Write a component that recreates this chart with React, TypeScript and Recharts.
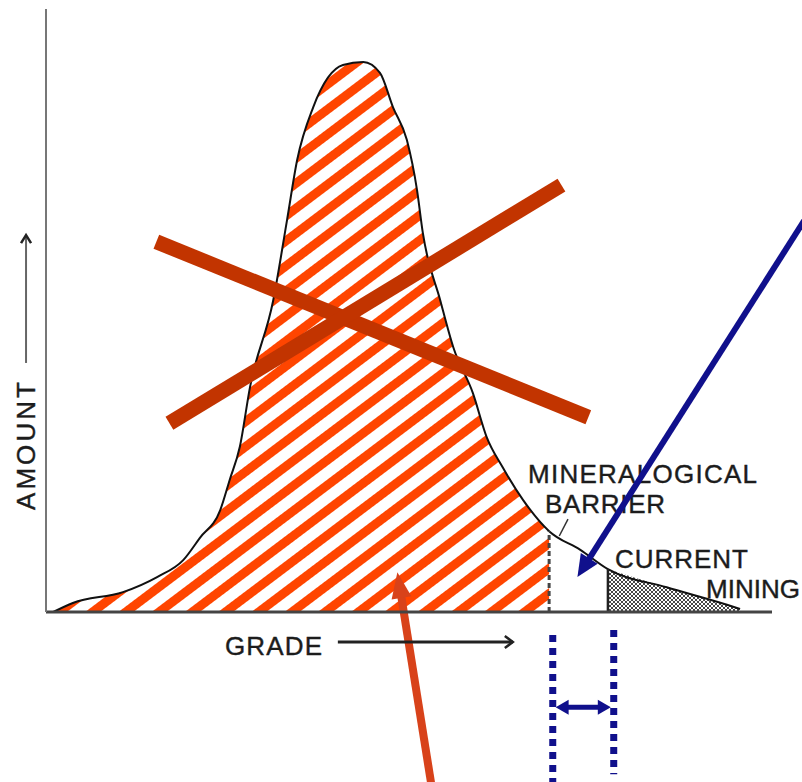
import { ComposedChart, Area, Line, XAxis, YAxis, ReferenceLine } from "recharts";

// grade / amount
const grade = [1, 3.7, 10.6, 15.3, 18.9, 21.2, 24.0, 25.3, 26.7, 28.1, 31.3, 33.2, 34.6, 36.8, 40.9, 43.7, 46.0, 47.8, 49.7, 51.1, 51.9, 54.3, 56.1, 58.8, 60.7, 62.9, 65.7, 69.3, 73.6, 77.4, 85.5, 93.8, 95.6];
const amount = [0, 1.5, 3.3, 5.8, 8.6, 12.3, 16.9, 21.9, 27.4, 37.3, 51.7, 65.0, 75.0, 83.7, 90.7, 91.2, 89.4, 83.7, 78.3, 70.0, 62.9, 51.7, 43.9, 36.3, 29.0, 24.0, 18.6, 13.4, 10.3, 7.1, 4.1, 1.2, 0.5];

const barrierGrade = 69.3;
const barrierAmount = 13.4;
const miningGrade = 77.4;
const miningAmount = 7.1;

const data = grade.map((g, i) => ({
  grade: g,
  amount: amount[i],
  waste: g <= barrierGrade ? amount[i] : null,
  mined: g >= miningGrade ? amount[i] : null,
}));

// annotation segments, in grade / amount units
const crossA = [{ x: 15.2, y: 61.4 }, { x: 74.7, y: 32.3 }];
const crossB = [{ x: 17.0, y: 31.3 }, { x: 71.0, y: 70.8 }];
const blueArrow = [{ x: 105.8, y: 67.5 }, { x: 73.2, y: 5.8 }];
const redArrow = [{ x: 53.1, y: -28.8 }, { x: 48.4, y: 6.6 }];
const leftDots = [{ x: 69.8, y: -3.8 }, { x: 69.8, y: -28.2 }];
const rightDots = [{ x: 78.2, y: -3.0 }, { x: 78.2, y: -26.9 }];
const gapArrow = [{ x: 70.2, y: -15.8 }, { x: 77.8, y: -15.8 }];
const gradeArrow = [{ x: 40.2, y: -4.98 }, { x: 64.3, y: -4.98 }];
const amountArrow = [{ x: -2.75, y: 41.3 }, { x: -2.75, y: 62.5 }];
const barrierTick = [{ x: 71.9, y: 15.4 }, { x: 70.7, y: 12.6 }];

const arrow =
  (color: string, w: number, hl: number, hw: number, both = false) =>
  (p: any) => {
    const { x1, y1, x2, y2 } = p;
    const dx = x2 - x1;
    const dy = y2 - y1;
    const len = Math.hypot(dx, dy) || 1;
    const ux = dx / len;
    const uy = dy / len;
    const nx = -uy;
    const ny = ux;
    const head = (tx: number, ty: number, s: number) => {
      const bx = tx - s * ux * hl;
      const by = ty - s * uy * hl;
      return `${tx},${ty} ${bx + (nx * hw) / 2},${by + (ny * hw) / 2} ${bx - (nx * hw) / 2},${by - (ny * hw) / 2}`;
    };
    const sx = both ? x1 + ux * hl * 0.7 : x1;
    const sy = both ? y1 + uy * hl * 0.7 : y1;
    return (
      <g>
        <line x1={sx} y1={sy} x2={x2 - ux * hl * 0.7} y2={y2 - uy * hl * 0.7} stroke={color} strokeWidth={w} />
        <polygon points={head(x2, y2, 1)} fill={color} />
        {both && <polygon points={head(x1, y1, -1)} fill={color} />}
      </g>
    );
  };

const openArrow = (p: any) => {
  const { x1, y1, x2, y2 } = p;
  const vertical = Math.abs(x2 - x1) < 1;
  const tip = vertical
    ? `M${x2 - 5},${y2 + 8} L${x2},${y2} L${x2 + 5},${y2 + 8}`
    : `M${x2 - 8},${y2 - 6} L${x2},${y2} L${x2 - 8},${y2 + 6}`;
  return (
    <g>
      <line x1={x1} y1={y1} x2={x2} y2={y2} stroke={vertical ? "#666" : "#222"} strokeWidth={vertical ? 2 : 3} />
      <path d={tip} fill="none" stroke="#222" strokeWidth={2.5} />
    </g>
  );
};

const txt = {
  fontFamily: "'Liberation Sans', Arial, sans-serif",
  fontSize: 26,
  fill: "#1c1c1c",
  stroke: "#1c1c1c",
  strokeWidth: 0.4,
};

export default function App() {
  return (
    <div style={{ position: "absolute", left: 0, top: 0, background: "#fff" }}>
      <ComposedChart
        width={802}
        height={782}
        data={data}
        margin={{ top: 9, right: 30, bottom: 169, left: 45 }}
      >
        <defs>
          <pattern id="stripes" patternUnits="userSpaceOnUse" width={20} height={20} patternTransform="rotate(-37)">
            <rect x={0} y={0} width={20} height={9} fill="#FF4500" />
          </pattern>
          <pattern id="cross" patternUnits="userSpaceOnUse" width={4} height={4}>
            <path d="M0,4 L4,0 M0,0 L4,4" stroke="#333" strokeWidth={0.9} />
          </pattern>
        </defs>

        <XAxis
          type="number"
          dataKey="grade"
          domain={[0, 100]}
          tick={false}
          tickLine={false}
          height={1}
          axisLine={{ stroke: "#444", strokeWidth: 3 }}
        />
        <YAxis
          type="number"
          domain={[0, 100]}
          tick={false}
          tickLine={false}
          width={1}
          axisLine={{ stroke: "#777", strokeWidth: 2 }}
        />

        <Area
          type="monotone"
          dataKey="waste"
          fill="url(#stripes)"
          fillOpacity={1}
          stroke="none"
          isAnimationActive={false}
        />
        <Area
          type="monotone"
          dataKey="mined"
          fill="url(#cross)"
          fillOpacity={1}
          stroke="none"
          isAnimationActive={false}
        />
        <Line
          type="monotone"
          dataKey="amount"
          stroke="#111"
          strokeWidth={2}
          dot={false}
          isAnimationActive={false}
        />

        <ReferenceLine
          segment={[{ x: barrierGrade, y: 0 }, { x: barrierGrade, y: barrierAmount }]}
          stroke="#444"
          strokeWidth={3}
          strokeDasharray="5 3"
          ifOverflow="visible"
        />
        <ReferenceLine
          segment={[{ x: miningGrade, y: 0 }, { x: miningGrade, y: miningAmount }]}
          stroke="#222"
          strokeWidth={2.5}
          ifOverflow="visible"
        />
        <ReferenceLine segment={barrierTick} stroke="#333" strokeWidth={1.5} ifOverflow="visible" />

        <ReferenceLine segment={crossA} stroke="#C23400" strokeWidth={15} ifOverflow="visible" />
        <ReferenceLine segment={crossB} stroke="#C23400" strokeWidth={15} ifOverflow="visible" />

        <ReferenceLine segment={blueArrow} ifOverflow="visible" shape={arrow("#10108C", 6, 22, 20)} />
        <ReferenceLine segment={redArrow} ifOverflow="visible" shape={arrow("#D8421A", 8, 26, 20)} />

        <ReferenceLine segment={leftDots} stroke="#10108C" strokeWidth={7} strokeDasharray="7 6" ifOverflow="visible" />
        <ReferenceLine segment={rightDots} stroke="#10108C" strokeWidth={7} strokeDasharray="7 6" ifOverflow="visible" />
        <ReferenceLine segment={gapArrow} ifOverflow="visible" shape={arrow("#10108C", 5, 13, 15, true)} />

        <ReferenceLine segment={gradeArrow} ifOverflow="visible" shape={openArrow} />
        <ReferenceLine segment={amountArrow} ifOverflow="visible" shape={openArrow} />

        <text {...txt} x={225} y={655} textLength={97} lengthAdjust="spacing">GRADE</text>
        <text {...txt} x={35} y={446} textAnchor="middle" transform="rotate(-90 35 446)" textLength={128} lengthAdjust="spacing">AMOUNT</text>
        <text {...txt} x={528} y={483} textLength={229} lengthAdjust="spacing">MINERALOGICAL</text>
        <text {...txt} x={545} y={513} textLength={120} lengthAdjust="spacing">BARRIER</text>
        <text {...txt} x={615} y={568} textLength={133} lengthAdjust="spacing">CURRENT</text>
        <text {...txt} x={706} y={598} textLength={94} lengthAdjust="spacingAndGlyphs">MINING</text>
      </ComposedChart>
    </div>
  );
}
